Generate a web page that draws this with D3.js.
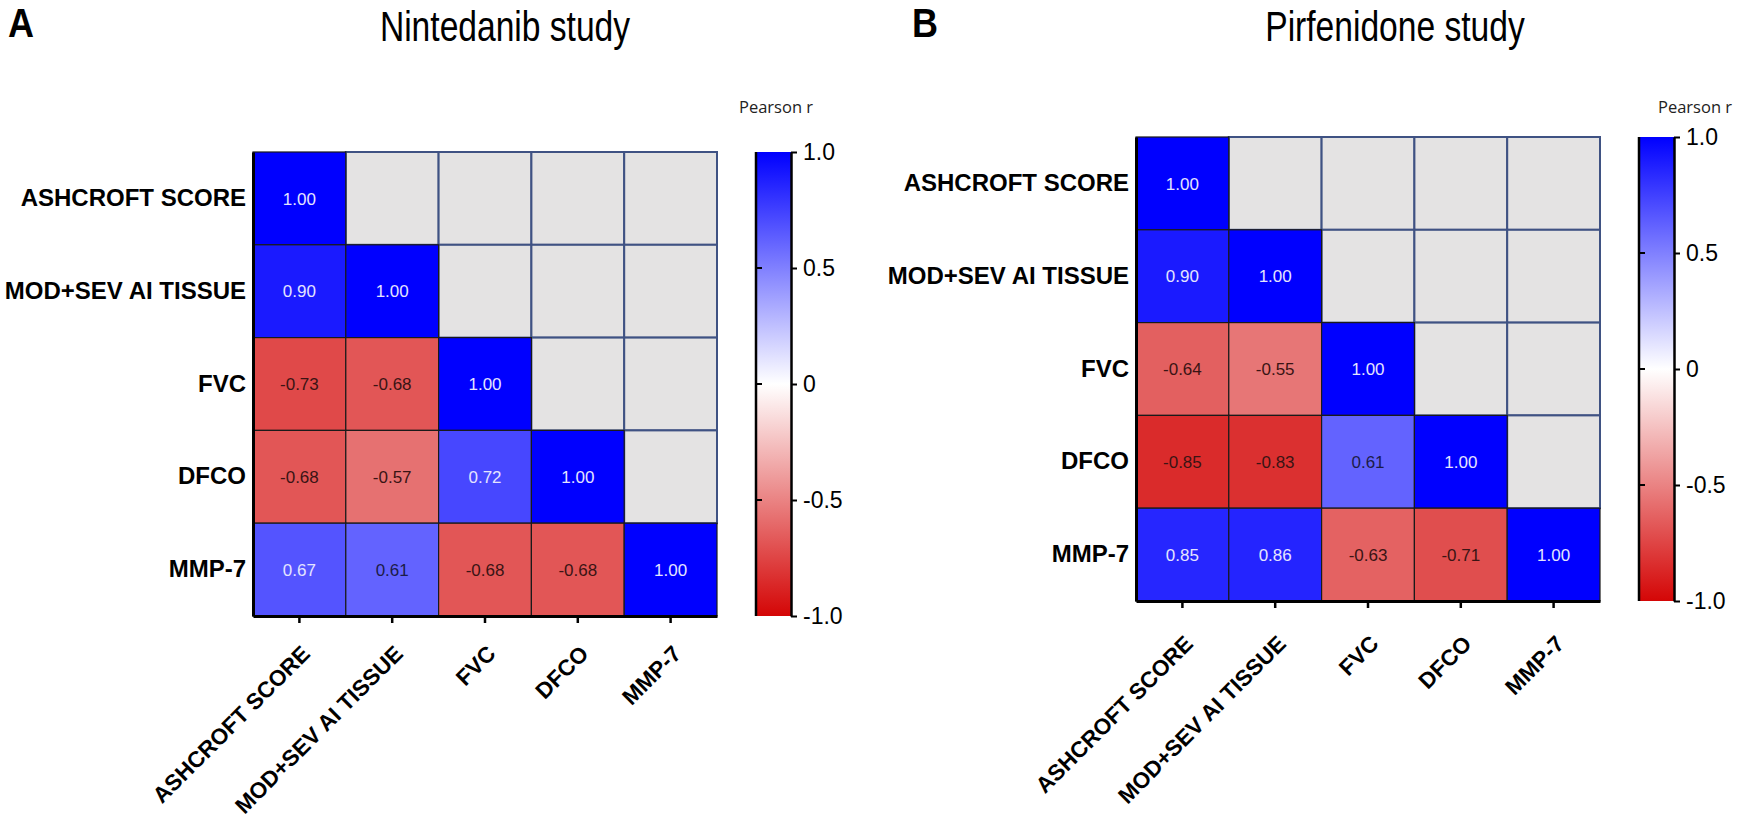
<!DOCTYPE html>
<html>
<head>
    <meta charset="utf-8">
    <title>correlation heatmaps</title>
    <style>
        body { margin: 0; background: #fff; }
        text { font-family: "Liberation Sans", Arial, sans-serif; }
    </style>
</head>
<body>
<main></main>
<script src="https://cdn.jsdelivr.net/npm/d3@7/dist/d3.min.js"></script>
<script>
    // variables (same order on both axes)
    var variables = ["ASHCROFT SCORE", "MOD+SEV AI TISSUE", "FVC", "DFCO", "MMP-7"];

    // lower triangle of Pearson r, row by row
    var nintedanibR = [
        [1.00],
        [0.90, 1.00],
        [-0.73, -0.68, 1.00],
        [-0.68, -0.57, 0.72, 1.00],
        [0.67, 0.61, -0.68, -0.68, 1.00]
    ];
    var pirfenidoneR = [
        [1.00],
        [0.90, 1.00],
        [-0.64, -0.55, 1.00],
        [-0.85, -0.83, 0.61, 1.00],
        [0.85, 0.86, -0.63, -0.71, 1.00]
    ];

    var colorbarTicks = [1.0, 0.5, 0, -0.5, -1.0];

    var width = 1748;
    var height = 820;
    var svg = d3.select("main")
        .append("svg")
        .attr("width", width)
        .attr("height", height);

    // white -> blue for positive, white -> red for negative
    var color = d3.scaleLinear()
        .domain([-1, 0, 1])
        .range(["#d40606", "#ffffff", "#0000ff"]);

    var defs = svg.append("defs");
    var grad = defs.append("linearGradient")
        .attr("id", "cbar")
        .attr("x1", 0).attr("y1", 0)
        .attr("x2", 0).attr("y2", 1);
    [1, 0.5, 0, -0.5, -1].forEach(function (v) {
        grad.append("stop")
            .attr("offset", ((1 - v) / 2 * 100) + "%")
            .attr("stop-color", color(v));
    });

    function drawPanel(cfg) {
        var g = svg.append("g");
        var size = 464;

        var x = d3.scaleBand().domain(variables).range([cfg.left, cfg.left + size]);
        var y = d3.scaleBand().domain(variables).range([cfg.top, cfg.top + size]);

        // every cell, upper triangle is empty (grey)
        var cells = [];
        variables.forEach(function (rv, i) {
            variables.forEach(function (cv, j) {
                cells.push({row: rv, col: cv, value: j <= i ? cfg.data[i][j] : null});
            });
        });

        g.selectAll("rect.empty")
            .data(cells.filter(function (d) { return d.value === null; }))
            .enter()
            .append("rect")
            .attr("class", "empty")
            .attr("x", function (d) { return x(d.col); })
            .attr("y", function (d) { return y(d.row); })
            .attr("width", x.bandwidth())
            .attr("height", y.bandwidth())
            .attr("fill", "#e4e3e3")
            .attr("stroke", "#3f5283")
            .attr("stroke-width", 2);

        var filled = cells.filter(function (d) { return d.value !== null; });

        g.selectAll("rect.cell")
            .data(filled)
            .enter()
            .append("rect")
            .attr("class", "cell")
            .attr("x", function (d) { return x(d.col); })
            .attr("y", function (d) { return y(d.row); })
            .attr("width", x.bandwidth())
            .attr("height", y.bandwidth())
            .attr("fill", function (d) { return color(d.value); })
            .attr("stroke", "#1a1a1a")
            .attr("stroke-width", 1.2);

        g.selectAll("text.val")
            .data(filled)
            .enter()
            .append("text")
            .attr("class", "val")
            .attr("x", function (d) { return x(d.col) + x.bandwidth() / 2; })
            .attr("y", function (d) { return y(d.row) + y.bandwidth() / 2; })
            .attr("dy", "0.36em")
            .attr("text-anchor", "middle")
            .attr("font-size", 17)
            .attr("fill", function (d) {
                if (d.value > 0.64) return "#e4e4ff";
                if (d.value > 0) return "#1c1c48";
                return "#3a1414";
            })
            .text(function (d) { return d.value.toFixed(2); });

        // axes: left + bottom lines, ticks only on bottom
        var xAxis = g.append("g")
            .attr("transform", "translate(0," + (cfg.top + size) + ")")
            .call(d3.axisBottom(x).tickSize(7).tickSizeOuter(0));
        xAxis.select(".domain").attr("stroke", "#000").attr("stroke-width", 3);
        xAxis.selectAll(".tick line").attr("stroke", "#000").attr("stroke-width", 2.5);
        xAxis.selectAll(".tick text")
            .attr("font-size", 22.5)
            .attr("font-weight", "bold")
            .attr("fill", "#000")
            .attr("text-anchor", "end")
            .attr("dx", 0)
            .attr("dy", 0)
            .attr("transform", "translate(5," + cfg.labelDy + ") rotate(-45)");

        var yAxis = g.append("g")
            .attr("transform", "translate(" + cfg.left + ",0)")
            .call(d3.axisLeft(y).tickSize(0).tickPadding(7));
        yAxis.select(".domain").attr("stroke", "#000").attr("stroke-width", 3);
        yAxis.selectAll(".tick text")
            .attr("font-size", 24)
            .attr("font-weight", "bold")
            .attr("fill", "#000");

        // colour bar
        var cbX = cfg.left + size + 38;
        var cbW = 36;
        var cbScale = d3.scaleLinear().domain([-1, 1]).range([cfg.top + size, cfg.top]);

        g.append("rect")
            .attr("x", cbX)
            .attr("y", cfg.top)
            .attr("width", cbW)
            .attr("height", size)
            .attr("fill", "url(#cbar)");
        g.append("line")
            .attr("x1", cbX + 1).attr("x2", cbX + 1)
            .attr("y1", cfg.top).attr("y2", cfg.top + size)
            .attr("stroke", "#000").attr("stroke-width", 2.5);
        // short inner ticks on the left edge
        g.selectAll("line.inTick")
            .data(colorbarTicks.slice(1, 4))
            .enter()
            .append("line")
            .attr("class", "inTick")
            .attr("x1", cbX).attr("x2", cbX + 7)
            .attr("y1", function (d) { return cbScale(d); })
            .attr("y2", function (d) { return cbScale(d); })
            .attr("stroke", "#000").attr("stroke-width", 2);

        var cbAxis = g.append("g")
            .attr("transform", "translate(" + (cbX + cbW) + ",0)")
            .call(d3.axisRight(cbScale)
                .tickValues(colorbarTicks)
                .tickSize(6)
                .tickSizeOuter(0)
                .tickFormat(function (d) { return d === 0 ? "0" : d.toFixed(1); }));
        cbAxis.select(".domain").attr("stroke", "#000").attr("stroke-width", 2.5);
        cbAxis.selectAll(".tick line").attr("stroke", "#000").attr("stroke-width", 2);
        cbAxis.selectAll(".tick text")
            .attr("font-size", 23)
            .attr("fill", "#000")
            .attr("x", 12);

        g.append("text")
            .attr("x", cbX + cfg.pearsonDx)
            .attr("y", 113)
            .attr("font-size", 16.5)
            .style("font-family", "'Open Sans', sans-serif")
            .attr("fill", "#222")
            .text("Pearson r");

        // titles (slightly condensed face)
        g.append("text")
            .attr("transform", "translate(" + cfg.titleX + ",41) scale(0.8,1)")
            .attr("text-anchor", "middle")
            .attr("font-size", 42)
            .attr("fill", "#000")
            .text(cfg.title);

        g.append("text")
            .attr("transform", "translate(" + cfg.letterX + ",37) scale(0.9,1)")
            .attr("font-size", 40)
            .attr("font-weight", "bold")
            .attr("fill", "#000")
            .text(cfg.letter);
    }

    drawPanel({data: nintedanibR, left: 253, top: 152, title: "Nintedanib study",
        titleX: 505, letter: "A", letterX: 8, pearsonDx: -16, labelDy: 32});
    drawPanel({data: pirfenidoneR, left: 1136, top: 137, title: "Pirfenidone study",
        titleX: 1395, letter: "B", letterX: 912, pearsonDx: 20, labelDy: 37});
</script>
</body>
</html>
